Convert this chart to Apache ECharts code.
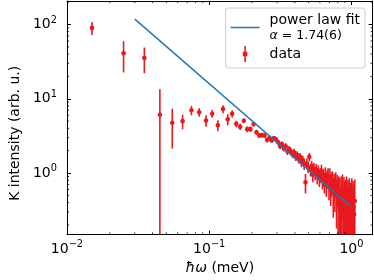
<!DOCTYPE html>
<html><head><meta charset="utf-8">
<script src="https://cdn.jsdelivr.net/npm/echarts@6/dist/echarts.min.js"></script>
<style>html,body{margin:0;padding:0;background:#fff}#c{width:374px;height:280px}</style>
</head><body><div id="c"></div>
<script>
// ---- data ----
const energy = [
  0.015,0.025,0.035,0.045,0.055,0.065,0.075,0.085,0.095,
  0.105,0.115,0.125,0.135,0.145,0.155,0.165,0.175,0.185,0.195,
  0.205,0.215,0.225,0.235,0.245,0.255,0.265,0.275,0.285,0.295,
  0.305,0.315,0.325,0.335,0.345,0.355,0.365,0.375,0.385,0.395,
  0.405,0.415,0.425,0.435,0.445,0.455,0.465,0.475,0.485,0.495,
  0.505,0.515,0.525,0.535,0.545,0.555,0.565,0.575,0.585,0.595,
  0.605,0.615,0.625,0.635,0.645,0.655,0.665,0.675,0.685,0.695,
  0.705,0.715,0.725,0.735,0.745,0.755,0.765,0.775,0.785,0.795,
  0.805,0.815,0.825,0.835,0.845,0.855,0.865,0.875,0.885,0.895,
  0.905,0.915,0.925,0.935,0.945,0.955,0.965,0.975,0.985,0.995,
  1.005,1.015,1.025,1.035,1.045,1.055
];
const intensity = [
  90,41,35.5,6.1,4.75,5.0,7.0,6.6,5.1,
  6.3,4.4,7.3,5.3,6.3,4.6,4.2,5.05,3.9,3.9,
  4.55,3.55,3.2,3.25,3.2,2.8,2.95,2.75,2.95,2.85,
  2.6,2.3,2.45,2.15,2.3,1.95,2.1,1.95,1.8,1.9,
  1.65,1.75,1.55,1.65,1.4,1.5,1.3,0.75,1.35,1.2,
  1.65,1.1,1.25,0.95,1.15,1.0,1.1,0.9,1.05,0.85,
  0.95,1.05,0.8,0.9,0.75,0.95,0.7,0.85,0.9,0.65,
  0.9,0.6,0.75,0.8,0.55,0.7,0.6,0.75,0.5,0.65,
  0.4,0.6,0.5,0.35,0.55,0.45,0.6,0.3,0.5,0.4,
  0.45,0.28,0.5,0.38,0.42,0.3,0.45,0.25,0.38,0.33,
  0.45,0.3,0.4,0.35,0.28,0.42
];
const intensityErr = [
  18,18.5,13.5,7.3,2.6,1.1,1.0,0.85,0.9,
  0.75,0.75,0.9,0.9,0.7,0.45,0.4,0.38,0.35,0.33,
  0.32,0.28,0.25,0.25,0.24,0.22,0.22,0.2,0.2,0.2,
  0.2,0.2,0.21,0.2,0.22,0.2,0.21,0.22,0.2,0.22,
  0.2,0.22,0.2,0.22,0.2,0.21,0.2,0.22,0.22,0.2,
  0.22,0.2,0.22,0.2,0.22,0.2,0.22,0.2,0.22,0.2,
  0.22,0.24,0.2,0.25,0.22,0.25,0.22,0.24,0.26,0.22,
  0.26,0.24,0.28,0.26,0.3,0.28,0.3,0.28,0.32,0.3,
  0.32,0.3,0.35,0.3,0.35,0.34,0.36,0.3,0.38,0.35,
  0.36,0.3,0.4,0.34,0.38,0.32,0.4,0.3,0.36,0.34,
  0.4,0.32,0.38,0.36,0.3,0.4
];
const fitEnergy = [0.03, 0.98];
const fitIntensity = [118, 0.36];
const xRange = [0.01, 1.41];
const yRange = [0.1486, 207];
const xTickExponents = [-2, -1, 0];
const yTickExponents = [0, 1, 2];
const fitLabel = 'power law fit';
const fitParam = 'α = 1.74(6)';
const dataLabel = 'data';

// ---- styles ----
const FONT = 'DejaVu Sans';
const RED = '#e8191f';
const BLUE = '#1f77b4';

function expLabel(exps) {
  return function (v) {
    const e = Math.log10(v), r = Math.round(e);
    if (Math.abs(e - r) > 1e-6 || exps.indexOf(r) < 0) return '';
    return '{b|10}{s|' + (r < 0 ? '\u2212' + (-r) : String(r)) + '}';
  };
}
const labelRich = {
  b: { fontFamily: FONT, fontSize: 14, lineHeight: 19, color: '#000' },
  s: { fontFamily: FONT, fontSize: 9.8, lineHeight: 10, verticalAlign: 'top', color: '#000' }
};
function axisBase(type) {
  return {
    type: 'log', logBase: 10,
    min: type === 'x' ? xRange[0] : yRange[0],
    max: type === 'x' ? xRange[1] : yRange[1],
    splitLine: { show: false },
    minorTick: { show: false },
    axisLine: { show: true, lineStyle: { color: '#000', width: 1 } },
    axisTick: { show: true, inside: true, length: 4, lineStyle: { color: '#000', width: 1 } }
  };
}

const errData = energy.map((x, i) => [x, intensity[i], intensityErr[i]]);
const fitData = fitEnergy.map((x, i) => [x, fitIntensity[i]]);

function renderErr(params, api) {
  const x = api.value(0), y = api.value(1), e = api.value(2);
  const cs = params.coordSys;
  const p = api.coord([x, y]);
  const yTop = api.coord([x, y + e])[1];
  const lo = y - e;
  const yBot = lo > 0 ? api.coord([x, lo])[1] : cs.y + cs.height;
  const top = Math.max(yTop, cs.y), bot = Math.min(yBot, cs.y + cs.height);
  return {
    type: 'group', children: [
      { type: 'line', shape: { x1: p[0], y1: top, x2: p[0], y2: bot }, style: { stroke: RED, lineWidth: 1.6 } },
      { type: 'circle', shape: { cx: p[0], cy: p[1], r: 2.3 }, style: { fill: RED } }
    ]
  };
}

function renderMinor(params, api) {
  const cs = params.coordSys;
  const ch = [];
  const L = 2.2;
  const st = { stroke: '#000', lineWidth: 0.8 };
  for (let d = -3; d <= 3; d++) {
    for (let k = 2; k <= 9; k++) {
      const v = k * Math.pow(10, d);
      if (v > xRange[0] && v < xRange[1]) {
        const px = api.coord([v, yRange[0]])[0];
        ch.push({ type: 'line', shape: { x1: px, y1: cs.y + cs.height, x2: px, y2: cs.y + cs.height - L }, style: st });
        ch.push({ type: 'line', shape: { x1: px, y1: cs.y, x2: px, y2: cs.y + L }, style: st });
      }
      if (v > yRange[0] && v < yRange[1]) {
        const py = api.coord([xRange[0], v])[1];
        ch.push({ type: 'line', shape: { x1: cs.x, y1: py, x2: cs.x + L, y2: py }, style: st });
        ch.push({ type: 'line', shape: { x1: cs.x + cs.width, y1: py, x2: cs.x + cs.width - L, y2: py }, style: st });
      }
    }
  }
  return { type: 'group', children: ch };
}

const chart = echarts.init(document.getElementById('c'), null, { renderer: 'canvas' });
chart.setOption({
  animation: false,
  backgroundColor: '#fff',
  grid: { left: 46, top: 1, right: 1.3, bottom: 36 },
  xAxis: [
    Object.assign(axisBase('x'), {
      position: 'bottom',
      axisLabel: { margin: 5, formatter: expLabel(xTickExponents), rich: labelRich, showMaxLabel: false },
      name: '{i|ħω} (meV)', nameLocation: 'middle', nameGap: 22,
      nameTextStyle: { fontFamily: FONT, fontSize: 14, color: '#000',
        rich: { i: { fontFamily: FONT, fontSize: 14, fontStyle: 'italic', color: '#000' } } }
    }),
    Object.assign(axisBase('x'), { position: 'top', axisLabel: { show: false } })
  ],
  yAxis: [
    Object.assign(axisBase('y'), {
      position: 'left',
      axisLabel: { margin: 10, formatter: expLabel(yTickExponents), rich: labelRich, showMinLabel: false, showMaxLabel: false },
      name: 'K intensity (arb. u.)', nameLocation: 'middle', nameGap: 32, nameRotate: 90,
      nameTextStyle: { fontFamily: FONT, fontSize: 14, color: '#000', padding: [0, 31, 0, 0] }
    }),
    Object.assign(axisBase('y'), { position: 'right', axisLabel: { show: false } })
  ],
  legend: {
    orient: 'vertical', right: 9, top: 8,
    padding: [4, 5, 6, 5], itemGap: 3, itemWidth: 29, itemHeight: 16,
    backgroundColor: 'rgba(255,255,255,0.8)', borderColor: '#cccccc', borderWidth: 1, borderRadius: 3,
    textStyle: { fontFamily: FONT, fontSize: 14, color: '#000', lineHeight: 16, padding: [0, 0, 0, 5],
      rich: {
        ai: { fontFamily: FONT, fontSize: 12.5, lineHeight: 15, fontStyle: 'italic', color: '#000' },
        a: { fontFamily: FONT, fontSize: 12.5, lineHeight: 15, color: '#000' }
      } },
    formatter: function (name) {
      if (name === fitLabel) return fitLabel + '\n{ai|α}{a|' + fitParam.slice(1) + '}';
      return name;
    },
    data: [
      { name: fitLabel, icon: 'path://M0,0L0.01,0Z M0,16L0.01,16Z M0,7.25H29V8.75H0Z' },
      { name: dataLabel, icon: 'path://M0,8L0.01,8Z M29,8L28.99,8Z M13.7,0H15.3V16H13.7Z M12.2,5.7H16.8V10.3H12.2Z' }
    ]
  },
  series: [
    {
      name: dataLabel, type: 'custom', xAxisIndex: 0, yAxisIndex: 0,
      renderItem: renderErr, data: errData, encode: { x: 0, y: 1 },
      itemStyle: { color: RED }, z: 2, clip: true, silent: true
    },
    {
      name: fitLabel, type: 'line', xAxisIndex: 0, yAxisIndex: 0,
      data: fitData, symbol: 'none', lineStyle: { color: BLUE, width: 1.5 }, itemStyle: { color: BLUE }, z: 3, silent: true
    },
    {
      name: 'minor ticks', type: 'custom', xAxisIndex: 0, yAxisIndex: 0,
      renderItem: renderMinor, data: [[1, 1]], encode: { x: 0, y: 1 }, z: 4, silent: true
    }
  ]
});
</script>
</body></html>
